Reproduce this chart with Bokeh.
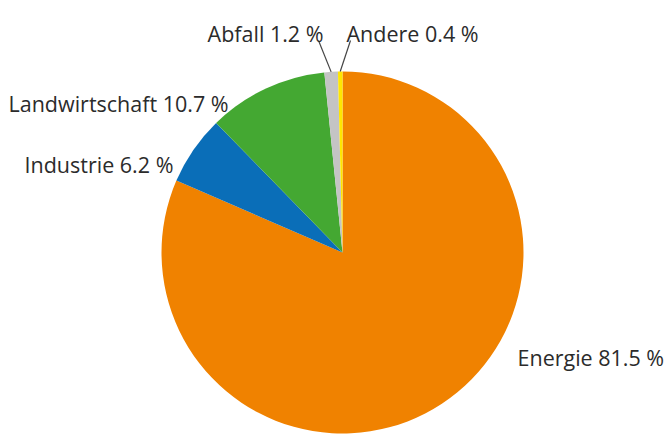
import math
from bokeh.plotting import figure
from bokeh.models import Range1d, ColumnDataSource
from bokeh.core.properties import value
from bokeh.embed import file_html
from bokeh.resources import INLINE

categories = ["Energie", "Industrie", "Landwirtschaft", "Abfall", "Andere"]
shares = [81.5, 6.2, 10.7, 1.2, 0.4]
colors = ["#F08200", "#0A6EB8", "#44A832", "#C4C4C4", "#FFE600"]
label_texts = ["Energie 81.5 %", "Industrie 6.2 %", "Landwirtschaft 10.7 %", "Abfall 1.2 %", "Andere 0.4 %"]

W, H = 669, 434
CX, CY, R = 342, H - 252, 181

p = figure(width=W, height=H, output_backend="svg", toolbar_location=None,
           x_range=Range1d(0, W), y_range=Range1d(0, H), min_border=0)
p.axis.visible = False
p.grid.visible = False
p.outline_line_color = None
p.background_fill_color = "white"

total = sum(shares)
starts, ends, mids = [], [], []
cum = 0.0
for s in shares:
    a0 = math.pi / 2 - 2 * math.pi * cum / total
    cum += s
    a1 = math.pi / 2 - 2 * math.pi * cum / total
    starts.append(a0)
    ends.append(a1)
    mids.append((a0 + a1) / 2)

src = ColumnDataSource(dict(start=starts, end=ends, color=colors, cat=categories))
p.wedge(x=CX, y=CY, radius=R, start_angle="start", end_angle="end",
        direction="clock", fill_color="color", line_color=None, source=src)

# leader lines for the two small slices (Abfall, Andere)
leader_ends = {3: (318, H - 40), 4: (350, H - 40)}
for i, (ex, ey) in leader_ends.items():
    sx = CX + R * math.cos(mids[i])
    sy = CY + R * math.sin(mids[i])
    p.line([sx, ex], [sy, ey], line_color="#444444", line_width=1.2)

# label positions (pixel layout)
lab_x = [517, 24, 8, 323, 346]
lab_y = [H - 357, H - 164, H - 103, H - 33, H - 33]
lab_align = ["left", "left", "left", "right", "left"]
lsrc = ColumnDataSource(dict(x=lab_x, y=lab_y, t=label_texts, a=lab_align))
p.text(x="x", y="y", text="t", text_align="a", text_baseline="alphabetic",
       text_font=value("Open Sans"), text_font_size="21.5px", text_color="#2b2b2b",
       source=lsrc)

open("out.html", "w").write(file_html(p, INLINE))
